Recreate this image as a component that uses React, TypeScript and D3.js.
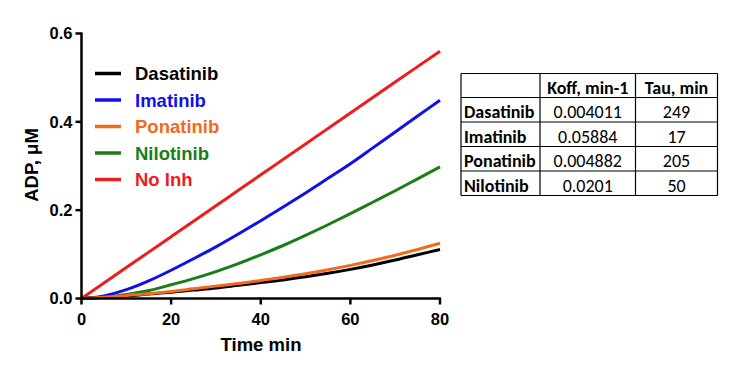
import React, { useEffect, useRef } from 'react';
import * as d3 from 'd3';

// time axis (min)
const TIMES = [0, 5, 10, 15, 20, 25, 30, 35, 40, 45, 50, 55, 60, 65, 70, 75, 80];

const SERIES_NAMES = ['Dasatinib', 'Imatinib', 'Ponatinib', 'Nilotinib', 'No Inh'];
const SERIES_COLORS = ['#000000', '#1010e8', '#f26a1b', '#1a7d1a', '#ee1c1c'];

// ADP, uM
const DASATINIB = [0, 0.003, 0.006, 0.01, 0.014, 0.019, 0.024, 0.03, 0.036, 0.042, 0.049, 0.057, 0.066, 0.076, 0.087, 0.099, 0.111];
const IMATINIB = [0, 0.006, 0.02, 0.04, 0.064, 0.09, 0.117, 0.146, 0.176, 0.207, 0.239, 0.272, 0.305, 0.341, 0.377, 0.413, 0.449];
const PONATINIB = [0, 0.003, 0.007, 0.011, 0.016, 0.022, 0.028, 0.034, 0.041, 0.048, 0.056, 0.065, 0.075, 0.086, 0.098, 0.111, 0.125];
const NILOTINIB = [0, 0.003, 0.009, 0.018, 0.031, 0.045, 0.061, 0.079, 0.099, 0.12, 0.143, 0.167, 0.192, 0.218, 0.244, 0.271, 0.298];
const NO_INH = [0, 0.035, 0.07, 0.105, 0.14, 0.175, 0.21, 0.245, 0.28, 0.315, 0.35, 0.385, 0.42, 0.455, 0.49, 0.525, 0.56];

const X_TICKS = [0, 20, 40, 60, 80];
const Y_TICKS = [0, 0.2, 0.4, 0.6];

// side table
const TABLE_HEADER = ['', 'Koff, min-1', 'Tau, min'];
const TABLE_DRUGS = ['Dasatinib', 'Imatinib', 'Ponatinib', 'Nilotinib'];
const TABLE_KOFF = ['0.004011', '0.05884', '0.004882', '0.0201'];
const TABLE_TAU = ['249', '17', '205', '50'];

const W = 736;
const H = 373;

export default function App() {
  const svgRef = useRef<SVGSVGElement>(null);

  useEffect(() => {
    if (!svgRef.current) return;
    const svg = d3.select(svgRef.current);
    svg.selectAll('*').remove();

    const x = d3.scaleLinear().domain([0, 80]).range([81.5, 440]);
    const y = d3.scaleLinear().domain([0, 0.6]).range([298.5, 33.5]);
    const font = 'Arial, Helvetica, "Liberation Sans", sans-serif';

    const allSeries = [DASATINIB, IMATINIB, PONATINIB, NILOTINIB, NO_INH];

    // curves (red last so it sits on top)
    const line = d3.line<number>()
      .x((_, i) => x(TIMES[i]))
      .y(d => y(d))
      .curve(d3.curveMonotoneX);

    const drawOrder = [1, 3, 0, 2, 4];
    drawOrder.forEach(k => {
      svg.append('path')
        .attr('d', line(allSeries[k]) as string)
        .attr('fill', 'none')
        .attr('stroke', SERIES_COLORS[k])
        .attr('stroke-width', 3);
    });

    // axes
    const axisColor = '#000';
    svg.append('line')
      .attr('x1', x(0)).attr('x2', x(0))
      .attr('y1', y(0.6) - 1).attr('y2', y(0) + 1)
      .attr('stroke', axisColor).attr('stroke-width', 2.5);
    svg.append('line')
      .attr('x1', x(0) - 1).attr('x2', x(80) + 1)
      .attr('y1', y(0)).attr('y2', y(0))
      .attr('stroke', axisColor).attr('stroke-width', 2.5);

    Y_TICKS.forEach(t => {
      svg.append('line')
        .attr('x1', x(0) - 6).attr('x2', x(0))
        .attr('y1', y(t)).attr('y2', y(t))
        .attr('stroke', axisColor).attr('stroke-width', 2.5);
      svg.append('text')
        .attr('x', x(0) - 9)
        .attr('y', y(t))
        .attr('dy', '0.36em')
        .attr('text-anchor', 'end')
        .attr('font-family', font)
        .attr('font-weight', 'bold')
        .attr('font-size', 16.5)
        .text(t.toFixed(1));
    });

    X_TICKS.forEach(t => {
      svg.append('line')
        .attr('x1', x(t)).attr('x2', x(t))
        .attr('y1', y(0)).attr('y2', y(0) + 6)
        .attr('stroke', axisColor).attr('stroke-width', 2.5);
      svg.append('text')
        .attr('x', x(t))
        .attr('y', y(0) + 26)
        .attr('text-anchor', 'middle')
        .attr('font-family', font)
        .attr('font-weight', 'bold')
        .attr('font-size', 16.5)
        .text(String(t));
    });

    // axis titles
    svg.append('text')
      .attr('x', 261)
      .attr('y', 351)
      .attr('text-anchor', 'middle')
      .attr('font-family', font)
      .attr('font-weight', 'bold')
      .attr('font-size', 18.5)
      .text('Time min');

    svg.append('text')
      .attr('transform', `translate(38, 165) rotate(-90)`)
      .attr('text-anchor', 'middle')
      .attr('font-family', font)
      .attr('font-weight', 'bold')
      .attr('font-size', 18.5)
      .text('ADP, μM');

    // legend
    SERIES_NAMES.forEach((name, i) => {
      const ly = 73.5 + i * 26.5;
      svg.append('line')
        .attr('x1', 95).attr('x2', 121)
        .attr('y1', ly).attr('y2', ly)
        .attr('stroke', SERIES_COLORS[i]).attr('stroke-width', 3.5);
      svg.append('text')
        .attr('x', 135)
        .attr('y', ly)
        .attr('dy', '0.36em')
        .attr('font-family', font)
        .attr('font-weight', 'bold')
        .attr('font-size', 18.5)
        .attr('fill', SERIES_COLORS[i])
        .text(name);
    });

    // table
    const colX = [461, 540, 635.5, 717.5];
    const rowY = [73.5, 97.5, 122, 146.5, 171, 195.5];
    const tfont = 'Carlito, Calibri, "Open Sans", "Liberation Sans", sans-serif';
    const tsize = 18;
    const tdy = '0.47em';
    const tg = svg.append('g');
    rowY.forEach(ry => {
      tg.append('line')
        .attr('x1', colX[0]).attr('x2', colX[3])
        .attr('y1', ry).attr('y2', ry)
        .attr('stroke', '#000').attr('stroke-width', 1.2);
    });
    colX.forEach(cx => {
      tg.append('line')
        .attr('x1', cx).attr('x2', cx)
        .attr('y1', rowY[0]).attr('y2', rowY[5])
        .attr('stroke', '#000').attr('stroke-width', 1.2);
    });
    const mid = (a: number, b: number) => (a + b) / 2;
    TABLE_HEADER.forEach((h, c) => {
      if (!h) return;
      tg.append('text')
        .attr('x', mid(colX[c], colX[c + 1]))
        .attr('y', mid(rowY[0], rowY[1]))
        .attr('dy', tdy)
        .attr('text-anchor', 'middle')
        .attr('font-family', tfont)
        .attr('font-weight', 'bold')
        .attr('font-size', tsize)
        .text(h);
    });
    TABLE_DRUGS.forEach((d, r) => {
      const cy = mid(rowY[r + 1], rowY[r + 2]);
      tg.append('text')
        .attr('x', colX[0] + 3)
        .attr('y', cy)
        .attr('dy', tdy)
        .attr('font-family', tfont)
        .attr('font-weight', 'bold')
        .attr('font-size', tsize)
        .text(d);
      tg.append('text')
        .attr('x', mid(colX[1], colX[2]))
        .attr('y', cy)
        .attr('dy', tdy)
        .attr('text-anchor', 'middle')
        .attr('font-family', tfont)
        .attr('font-size', tsize)
        .text(TABLE_KOFF[r]);
      tg.append('text')
        .attr('x', mid(colX[2], colX[3]))
        .attr('y', cy)
        .attr('dy', tdy)
        .attr('text-anchor', 'middle')
        .attr('font-family', tfont)
        .attr('font-size', tsize)
        .text(TABLE_TAU[r]);
    });
  }, []);

  return (
    <svg
      ref={svgRef}
      width={W}
      height={H}
      style={{ position: 'absolute', left: 0, top: 0, background: '#fff' }}
    />
  );
}
